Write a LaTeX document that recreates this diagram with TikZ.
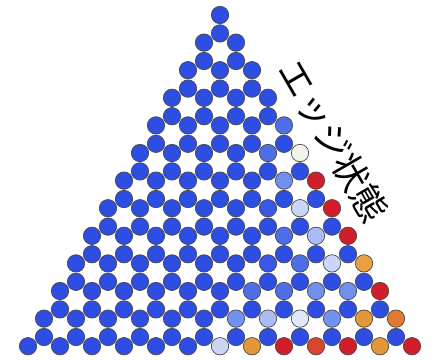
\documentclass[tikz,border=0pt]{standalone}
\usepackage{fontspec}
\newfontfamily\jpfont{Noto Sans CJK JP}
\definecolor{eb}{HTML}{2D4DE3}
\definecolor{la}{HTML}{3858E5}
\definecolor{lb}{HTML}{4E6EE8}
\definecolor{lc}{HTML}{7191EE}
\definecolor{ld}{HTML}{A9BDF5}
\definecolor{le}{HTML}{C9D6F8}
\definecolor{lf}{HTML}{E0E7FA}
\definecolor{wh}{HTML}{F1F3EC}
\definecolor{rd}{HTML}{D21E2B}
\definecolor{ro}{HTML}{D8452A}
\definecolor{og}{HTML}{E3963A}
\definecolor{oa}{HTML}{E8A040}
\definecolor{ob}{HTML}{E07A32}
\definecolor{rim}{HTML}{4A4A4A}
\makeatletter
\newcommand\setac[3]{\expandafter\def\csname atomcol-#1-#2\endcsname{#3}}
\makeatother
\setac{4}{4}{lb}
\setac{5}{4}{lb}\setac{5}{5}{wh}
\setac{6}{5}{lc}\setac{6}{6}{rd}
\setac{7}{5}{la}\setac{7}{6}{le}\setac{7}{7}{rd}
\setac{8}{6}{lb}\setac{8}{7}{ld}\setac{8}{8}{rd}
\setac{9}{6}{la}\setac{9}{7}{lb}\setac{9}{8}{le}\setac{9}{9}{oa}
\setac{10}{6}{lb}\setac{10}{7}{lb}\setac{10}{8}{lc}\setac{10}{9}{lc}\setac{10}{10}{rd}
\setac{11}{6}{lc}\setac{11}{7}{ld}\setac{11}{8}{lf}\setac{11}{9}{lc}\setac{11}{10}{og}\setac{11}{11}{ob}
\setac{12}{6}{le}\setac{12}{7}{og}\setac{12}{8}{rd}\setac{12}{9}{ro}\setac{12}{10}{rd}\setac{12}{11}{og}\setac{12}{12}{rd}
\tikzset{atom/.style={circle, draw=rim, line width=0.7pt, minimum size=17.4pt, inner sep=0pt}}
\begin{document}
\begin{tikzpicture}[x=1pt,y=1pt]
\useasboundingbox (0,0) rectangle (438,360);
\foreach \k in {0,...,12}{
  \foreach \j in {0,...,\k}{
    \ifcsname atomcol-\k-\j\endcsname
      \edef\thecol{\csname atomcol-\k-\j\endcsname}
    \else
      \def\thecol{eb}
    \fi
    \node[atom, fill=\thecol] (t-\k-\j) at ({220-16*\k+32*\j},{345-27.6*\k}) {};
  }
  \ifnum\k<12
    \foreach \j in {0,...,\k}{
      \node[atom, fill=eb] (b-\k-\j) at ({220-16*\k+32*\j},{326.6-27.6*\k}) {};
    }
  \fi
}
\node[rotate=-60, font=\jpfont\fontsize{36}{36}\selectfont, inner sep=0pt] (lbl) at (333,219) {エッジ状態};
\end{tikzpicture}
\end{document}
